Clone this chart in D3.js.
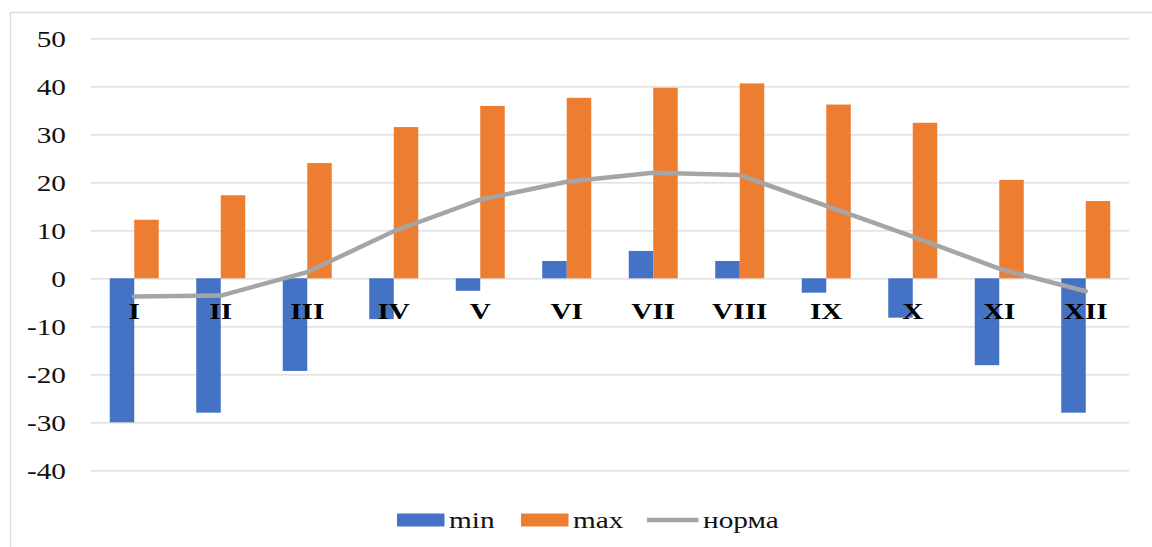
<!DOCTYPE html>
<html>
<head>
<meta charset="utf-8">
<script src="https://cdn.jsdelivr.net/npm/d3@7"></script>
<style>
  html, body { margin: 0; padding: 0; background: #fff; }
  svg { display: block; }
  svg text { font-family: "Liberation Serif", "Times New Roman", serif; }
</style>
</head>
<body>
<svg id="chart" width="1152" height="547"></svg>
<script>
// Monthly temperature: absolute minimum, absolute maximum and the norm
const months = ["I", "II", "III", "IV", "V", "VI", "VII", "VIII", "IX", "X", "XI", "XII"];
const minValues = [-30, -28, -19.3, -8.5, -2.6, 3.6, 5.7, 3.6, -3, -8.2, -18.1, -28];
const maxValues = [12.2, 17.3, 24, 31.5, 35.9, 37.6, 39.7, 40.6, 36.2, 32.4, 20.5, 16.1];
const normValues = [-3.8, -3.6, 1.3, 9.8, 16.4, 20.1, 22, 21.5, 15.1, 8.7, 2, -2.7];
const yTicks = [-40, -30, -20, -10, 0, 10, 20, 30, 40, 50];
const seriesNames = ["min", "max", "норма"];

const colors = { min: "#4472C4", max: "#ED7D31", "норма": "#A5A5A5" };
const FONT = "'Liberation Serif', 'Times New Roman', serif";
const STRETCH = 1.22; // text is drawn slightly wide

const svg = d3.select("#chart");
const plot = { left: 91, right: 1129, top: 38.3, bottom: 470.3 };

// outer frame of the chart area
svg.append("rect")
  .attr("x", 10.5).attr("y", 12.5)
  .attr("width", 1160).attr("height", 560)
  .attr("fill", "none").attr("stroke", "#d9d9d9").attr("stroke-width", 1.3);

const x = d3.scaleBand().domain(months).range([plot.left, plot.right]).padding(0);
const x1 = d3.scaleBand().domain(["min", "max"]).range([0, x.bandwidth()])
  .paddingInner(0).paddingOuter(0.765);
const y = d3.scaleLinear().domain([-40, 50]).range([plot.bottom, plot.top]);

// horizontal gridlines with tick labels
const yAxis = d3.axisLeft(y)
  .tickValues(yTicks)
  .tickSize(-(plot.right - plot.left))
  .tickPadding(0)
  .tickFormat(d => String(d));

const gy = svg.append("g")
  .attr("transform", `translate(${plot.left},0)`)
  .call(yAxis)
  .attr("font-family", FONT)
  .attr("font-size", 24);
gy.select(".domain").remove();
gy.selectAll(".tick line").attr("stroke", "#d9d9d9").attr("stroke-width", 1.3);
gy.selectAll(".tick text")
  .attr("x", null)
  .attr("dy", "0.34em")
  .attr("transform", `translate(-25,0) scale(${STRETCH},1)`)
  .attr("fill", "#111")
  .style("font-family", FONT)
  .style("font-size", "24px");

// bars
const rows = months.map((m, i) => ({ m, min: minValues[i], max: maxValues[i], norm: normValues[i] }));
const barG = svg.append("g");
["min", "max"].forEach(key => {
  barG.selectAll(null)
    .data(rows)
    .join("rect")
    .attr("x", d => x(d.m) + x1(key))
    .attr("width", x1.bandwidth())
    .attr("y", d => y(Math.max(0, d[key])))
    .attr("height", d => Math.abs(y(d[key]) - y(0)))
    .attr("fill", colors[key]);
});

// category labels sit just under the zero line
svg.append("g").selectAll("text")
  .data(months)
  .join("text")
  .attr("transform", d => `translate(${x(d) + x.bandwidth() / 2},${y(0) + 41}) scale(${STRETCH},1)`)
  .attr("text-anchor", "middle")
  .attr("fill", "#000")
  .style("font-family", FONT)
  .style("font-size", "24px")
  .style("font-weight", "bold")
  .text(d => d);

// norm line
const line = d3.line()
  .x(d => x(d.m) + x.bandwidth() / 2)
  .y(d => y(d.norm));
svg.append("path")
  .datum(rows)
  .attr("d", line)
  .attr("fill", "none")
  .attr("stroke", colors["норма"])
  .attr("stroke-width", 4.5)
  .attr("stroke-linejoin", "round")
  .attr("stroke-linecap", "round");

// legend
const legendItems = [
  { name: seriesNames[0], x: 397, type: "rect" },
  { name: seriesNames[1], x: 521, type: "rect" },
  { name: seriesNames[2], x: 647, type: "line" }
];
const lg = svg.append("g");
legendItems.forEach(it => {
  const g = lg.append("g").attr("transform", `translate(${it.x},520)`);
  if (it.type === "rect") {
    g.append("rect").attr("x", 0).attr("y", -6.5).attr("width", 47.5).attr("height", 13)
      .attr("fill", colors[it.name]);
  } else {
    g.append("line").attr("x1", 0).attr("x2", 51.5).attr("y1", 0).attr("y2", 0)
      .attr("stroke", colors[it.name]).attr("stroke-width", 4.5);
  }
  g.append("text")
    .attr("transform", `translate(${it.type === "rect" ? 52 : 56},8) scale(${STRETCH},1)`)
    .attr("fill", "#111")
    .style("font-family", FONT)
    .style("font-size", "24px")
    .text(it.name);
});
</script>
</body>
</html>
